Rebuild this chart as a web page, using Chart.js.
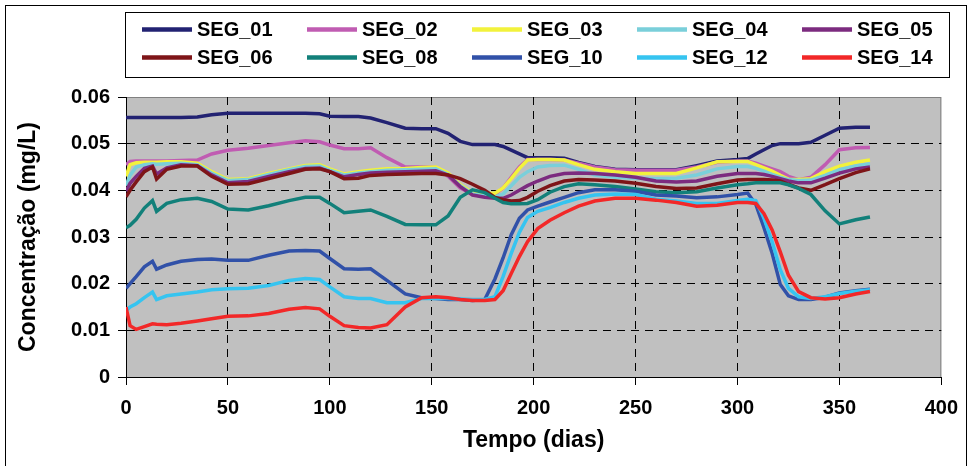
<!DOCTYPE html>
<html>
<head>
<meta charset="utf-8">
<script src="https://cdn.jsdelivr.net/npm/chart.js@4"></script>
<style>
  html, body { margin: 0; padding: 0; background: #fff; }
  #wrap { position: relative; width: 969px; height: 466px; }
</style>
</head>
<body>
<div id="wrap"><canvas id="chart" width="969" height="466"></canvas></div>
<script>
// Segment concentrations over the simulated year (mg/L)
const days = [0, 2, 5, 9, 13, 15, 20, 27, 35, 42, 50, 60, 70, 80, 88, 95, 100, 107, 114, 120,
  128, 137, 145, 152, 158, 164, 170, 176, 181, 185, 189, 193, 197, 202, 208, 215, 222, 230,
  240, 250, 260, 270, 280, 290, 300, 305, 309, 313, 317, 321, 325, 330, 336, 343, 350, 358, 365];

const seg01 = [.0556, .0556, .0556, .0556, .0556, .0556, .0556, .0556, .0557, .0562, .0565, .0565, .0565, .0565, .0565, .0564, .0559, .0558, .0558, .0555,
  .0545, .0533, .0532, .0532, .0522, .0505, .0498, .0498, .0498, .0494, .0486, .0478, .0470, .0470, .0470, .0469, .0460, .0451,
  .0445, .0444, .0444, .0444, .0453, .0463, .0466, .0468, .0478, .0487, .0496, .0500, .0500, .0500, .0503, .0518, .0533, .0535, .0535];
const seg02 = [.0455, .0462, .0463, .0463, .0463, .0463, .0463, .0464, .0465, .0478, .0486, .0490, .0496, .0502, .0506, .0504, .0497, .0489, .0489, .0491,
  .0470, .0450, .0450, .0449, .0430, .0405, .0392, .0388, .0392, .0405, .0428, .0450, .0466, .0466, .0466, .0465, .0458, .0450,
  .0444, .0443, .0443, .0443, .0450, .0460, .0463, .0463, .0458, .0452, .0446, .0440, .0430, .0423, .0428, .0455, .0487, .0491, .0492];
const seg03 = [.0430, .0455, .0459, .0460, .0460, .0460, .0461, .0461, .0458, .0440, .0423, .0425, .0436, .0446, .0453, .0455, .0446, .0435, .0440, .0443,
  .0446, .0447, .0449, .0450, .0437, .0412, .0395, .0394, .0394, .0405, .0425, .0447, .0465, .0466, .0466, .0465, .0455, .0445,
  .0440, .0436, .0436, .0436, .0448, .0461, .0462, .0462, .0455, .0448, .0441, .0432, .0424, .0423, .0425, .0440, .0452, .0460, .0465];
const seg04 = [.0410, .0432, .0450, .0455, .0457, .0456, .0457, .0458, .0455, .0437, .0421, .0423, .0434, .0444, .0451, .0452, .0443, .0433, .0437, .0440,
  .0443, .0444, .0445, .0446, .0434, .0410, .0392, .0388, .0386, .0392, .0410, .0428, .0440, .0450, .0453, .0454, .0445, .0433,
  .0428, .0426, .0425, .0426, .0433, .0446, .0451, .0451, .0447, .0441, .0434, .0428, .0423, .0421, .0422, .0432, .0444, .0452, .0457];
const seg05 = [.0398, .0415, .0430, .0447, .0452, .0435, .0448, .0455, .0453, .0433, .0416, .0419, .0430, .0440, .0447, .0448, .0440, .0429, .0434, .0437,
  .0439, .0440, .0441, .0442, .0433, .0408, .0390, .0385, .0383, .0383, .0390, .0400, .0410, .0420, .0430, .0436, .0437, .0436,
  .0433, .0428, .0420, .0418, .0420, .0430, .0436, .0436, .0436, .0434, .0430, .0425, .0420, .0416, .0416, .0426, .0437, .0446, .0450];
const seg06 = [.0386, .0400, .0418, .0440, .0450, .0424, .0445, .0452, .0452, .0430, .0413, .0414, .0425, .0436, .0445, .0446, .0440, .0425, .0426, .0432,
  .0434, .0435, .0436, .0436, .0433, .0425, .0413, .0400, .0385, .0380, .0377, .0378, .0385, .0398, .0410, .0420, .0423, .0422,
  .0420, .0415, .0408, .0404, .0405, .0414, .0422, .0423, .0423, .0423, .0422, .0420, .0413, .0405, .0400, .0412, .0425, .0438, .0446];
const seg08 = [.0320, .0325, .0338, .0362, .0378, .0355, .0372, .0380, .0383, .0376, .0360, .0358, .0367, .0378, .0385, .0385, .0372, .0352, .0355, .0358,
  .0344, .0327, .0326, .0326, .0345, .0385, .0401, .0395, .0383, .0374, .0371, .0371, .0372, .0380, .0396, .0408, .0414, .0412,
  .0408, .0403, .0397, .0395, .0397, .0405, .0412, .0414, .0416, .0416, .0416, .0416, .0412, .0404, .0391, .0356, .0328, .0337, .0343];
const seg10 = [.0190, .0200, .0215, .0236, .0248, .0231, .0240, .0248, .0252, .0253, .0250, .0250, .0261, .0270, .0271, .0270, .0254, .0232, .0231, .0232,
  .0207, .0178, .0170, .0168, .0166, .0166, .0164, .0166, .0210, .0255, .0305, .0340, .0358, .0366, .0375, .0385, .0395, .0401,
  .0401, .0398, .0390, .0388, .0384, .0386, .0391, .0394, .0370, .0320, .0265, .0198, .0174, .0166, .0166, .0171, .0180, .0185, .0188];
const seg12 = [.0142, .0150, .0157, .0170, .0182, .0166, .0174, .0178, .0182, .0187, .0189, .0190, .0196, .0207, .0211, .0209, .0193, .0172, .0168, .0168,
  .0159, .0159, .0168, .0169, .0168, .0167, .0166, .0166, .0172, .0215, .0265, .0310, .0342, .0355, .0363, .0374, .0383, .0390,
  .0392, .0391, .0381, .0377, .0372, .0372, .0378, .0381, .0378, .0340, .0290, .0230, .0190, .0172, .0168, .0172, .0179, .0184, .0187];
const seg14 = [.0150, .0110, .0102, .0108, .0114, .0113, .0112, .0115, .0120, .0125, .0130, .0131, .0136, .0145, .0149, .0146, .0130, .0110, .0106, .0105,
  .0112, .0150, .0170, .0172, .0170, .0166, .0164, .0164, .0166, .0185, .0222, .0258, .0290, .0318, .0336, .0352, .0366, .0377,
  .0383, .0383, .0379, .0374, .0366, .0368, .0374, .0374, .0372, .0350, .0315, .0268, .0218, .0183, .0170, .0167, .0170, .0178, .0183];

const seriesNames = ['SEG_01', 'SEG_02', 'SEG_03', 'SEG_04', 'SEG_05', 'SEG_06', 'SEG_08', 'SEG_10', 'SEG_12', 'SEG_14'];
const seriesValues = [seg01, seg02, seg03, seg04, seg05, seg06, seg08, seg10, seg12, seg14];
const seriesColors = ['#222272', '#C05CB2', '#F2F23C', '#7ACFDA', '#7C2B7F', '#7E1518', '#12807A', '#3151A8', '#36C4F0', '#F22828'];
const yTickLabels = ['0', '0.01', '0.02', '0.03', '0.04', '0.05', '0.06'];

const FONT = "'Liberation Sans', Arial, sans-serif";

// gray plot area plus the frame around the whole chart
const frame = {
    id: 'frame',
    beforeDraw(chart) {
        const ctx = chart.ctx;
        const a = chart.chartArea;
        ctx.save();
        ctx.fillStyle = '#fff';
        ctx.fillRect(0, 0, chart.width, chart.height);
        ctx.strokeStyle = '#000';
        ctx.lineWidth = 1;
        ctx.strokeRect(5.5, 5.5, 961, 480);
        ctx.fillStyle = '#C0C0C0';
        ctx.fillRect(a.left, a.top, a.right - a.left, a.bottom - a.top);
        ctx.strokeStyle = '#808080';
        ctx.strokeRect(a.left + 0.5, a.top + 0.5, a.right - a.left - 1, a.bottom - a.top);
        ctx.restore();
    }
};

// two-row boxed legend above the plot
const legendBox = {
    id: 'legendBox',
    afterDraw(chart) {
        const ctx = chart.ctx;
        ctx.save();
        ctx.strokeStyle = '#000';
        ctx.lineWidth = 1;
        ctx.strokeRect(125.5, 12.5, 824, 65);
        ctx.font = 'bold 20px ' + FONT;
        ctx.textBaseline = 'middle';
        ctx.textAlign = 'left';
        chart.data.datasets.forEach((ds, i) => {
            const x = 142 + (i % 5) * 165;
            const y = 29.5 + Math.floor(i / 5) * 28;
            ctx.strokeStyle = ds.borderColor;
            ctx.lineWidth = 4.5;
            ctx.beginPath();
            ctx.moveTo(x, y);
            ctx.lineTo(x + 50, y);
            ctx.stroke();
            ctx.fillStyle = '#000';
            ctx.fillText(ds.label, x + 55, y + 1);
        });
        ctx.restore();
    }
};

const datasets = seriesNames.map((name, i) => ({
    label: name,
    data: days.map((d, k) => ({ x: d, y: seriesValues[i][k] })),
    borderColor: seriesColors[i],
    backgroundColor: seriesColors[i],
    borderWidth: 3.5,
    pointRadius: 0,
    tension: 0,
    order: seriesNames.length - i
}));

const edgeGrid = (lo, hi) => ctx => {
    const v = ctx.tick ? ctx.tick.value : null;
    return (v === lo || v === hi) ? 'rgba(0,0,0,0)' : '#000';
};

new Chart(document.getElementById('chart'), {
    type: 'line',
    data: { datasets: datasets },
    options: {
        responsive: false,
        animation: false,
        layout: { padding: { top: 97, right: 20, left: 0, bottom: 0 } },
        plugins: {
            legend: { display: false },
            tooltip: { enabled: false }
        },
        scales: {
            x: {
                type: 'linear',
                min: 0,
                max: 400,
                afterFit: s => { s.height = 89; },
                ticks: {
                    stepSize: 50,
                    color: '#000',
                    padding: 11,
                    maxRotation: 0,
                    font: { family: FONT, size: 20, weight: 'bold' }
                },
                grid: {
                    color: edgeGrid(0, 400),
                    tickColor: '#000',
                    tickLength: 8,
                    lineWidth: 1
                },
                border: { color: '#000', width: 1, dash: [8, 6] },
                title: {
                    display: true,
                    text: 'Tempo (dias)',
                    color: '#000',
                    padding: { top: 0, bottom: 12 },
                    font: { family: FONT, size: 23, weight: 'bold' }
                }
            },
            y: {
                min: 0,
                max: 0.06,
                afterFit: s => { s.width = 126; },
                ticks: {
                    stepSize: 0.01,
                    color: '#000',
                    padding: 8,
                    font: { family: FONT, size: 20, weight: 'bold' },
                    callback: (v, i) => yTickLabels[i]
                },
                grid: {
                    color: edgeGrid(0, 0.06),
                    tickColor: '#000',
                    tickLength: 8,
                    lineWidth: 1
                },
                border: { color: '#000', width: 1, dash: [8, 6] },
                title: {
                    display: true,
                    text: 'Concentração (mg/L)',
                    color: '#000',
                    padding: { top: 15, bottom: 0 },
                    font: { family: FONT, size: 23, weight: 'bold' }
                }
            }
        }
    },
    plugins: [frame, legendBox]
});
</script>
</body>
</html>
